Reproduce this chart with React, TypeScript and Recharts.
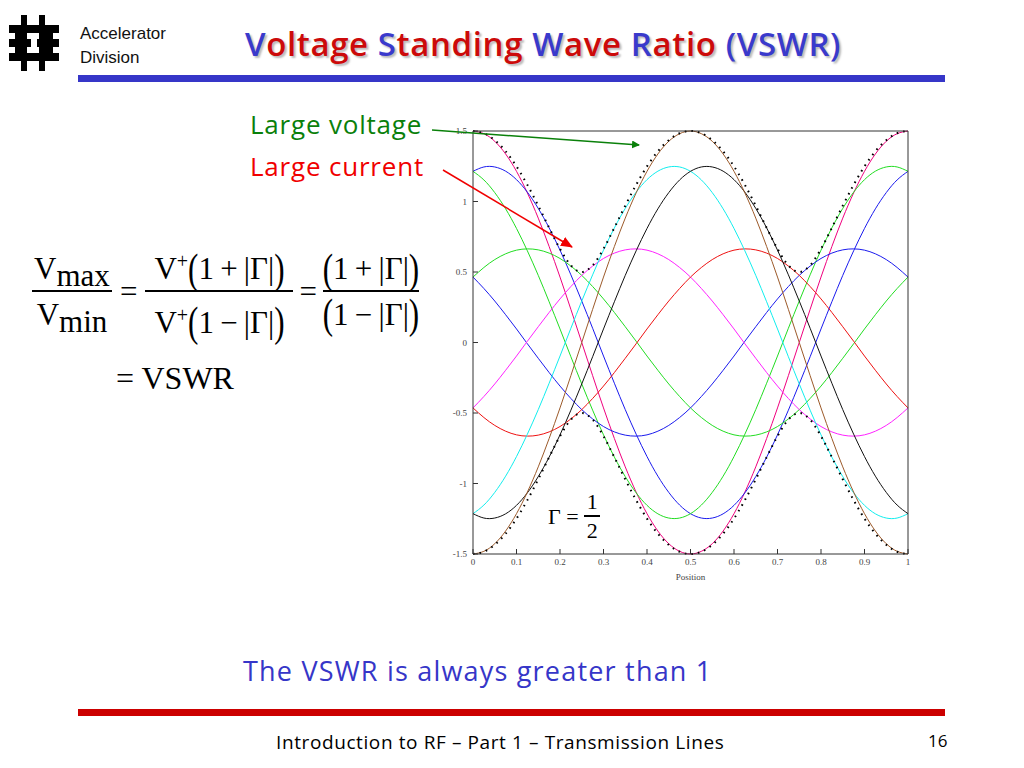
import React from "react"
import { LineChart, Line, XAxis, YAxis } from "recharts"

// position along the line, in wavelengths
const positions = [
  0, 0.025, 0.05, 0.075, 0.1, 0.125, 0.15, 0.175, 0.2, 0.225, 0.25, 0.275, 0.3, 0.325, 0.35, 0.375, 0.4, 0.425, 0.45, 0.475,
  0.5, 0.525, 0.55, 0.575, 0.6, 0.625, 0.65, 0.675, 0.7, 0.725, 0.75, 0.775, 0.8, 0.825, 0.85, 0.875, 0.9, 0.925, 0.95, 0.975, 1,
]

// voltage snapshots
const pinkWave = [
  1.5, 1.481, 1.427, 1.337, 1.214, 1.061, 0.882, 0.681, 0.464, 0.235, 0, -0.235, -0.464, -0.681, -0.882, -1.061, -1.214, -1.337, -1.427, -1.481,
  -1.5, -1.481, -1.427, -1.337, -1.214, -1.061, -0.882, -0.681, -0.464, -0.235, 0, 0.235, 0.464, 0.681, 0.882, 1.061, 1.214, 1.337, 1.427, 1.481, 1.5,
]
const blueWave = [
  1.214, 1.245, 1.245, 1.215, 1.155, 1.066, 0.951, 0.813, 0.655, 0.48, 0.294, 0.101, -0.096, -0.289, -0.476, -0.65, -0.809, -0.948, -1.063, -1.153,
  -1.214, -1.245, -1.245, -1.215, -1.155, -1.066, -0.951, -0.813, -0.655, -0.48, -0.294, -0.101, 0.096, 0.289, 0.476, 0.65, 0.809, 0.948, 1.063, 1.153, 1.214,
]
const greenWave = [
  1.214, 1.153, 1.063, 0.948, 0.809, 0.65, 0.476, 0.289, 0.096, -0.101, -0.294, -0.48, -0.655, -0.813, -0.951, -1.066, -1.155, -1.215, -1.245, -1.245,
  -1.214, -1.153, -1.063, -0.948, -0.809, -0.65, -0.476, -0.289, -0.096, 0.101, 0.294, 0.48, 0.655, 0.813, 0.951, 1.066, 1.155, 1.215, 1.245, 1.245, 1.214,
]
const greenSmall = [
  0.464, 0.532, 0.588, 0.629, 0.655, 0.664, 0.657, 0.634, 0.596, 0.542, 0.476, 0.397, 0.309, 0.213, 0.112, 0.009, -0.096, -0.197, -0.294, -0.383,
  -0.464, -0.532, -0.588, -0.629, -0.655, -0.664, -0.657, -0.634, -0.596, -0.542, -0.476, -0.397, -0.309, -0.213, -0.112, -0.009, 0.096, 0.197, 0.294, 0.383, 0.464,
]
const blueSmall = [
  0.464, 0.383, 0.294, 0.197, 0.096, -0.009, -0.112, -0.213, -0.309, -0.397, -0.476, -0.542, -0.596, -0.634, -0.657, -0.664, -0.655, -0.629, -0.588, -0.532,
  -0.464, -0.383, -0.294, -0.197, -0.096, 0.009, 0.112, 0.213, 0.309, 0.397, 0.476, 0.542, 0.596, 0.634, 0.657, 0.664, 0.655, 0.629, 0.588, 0.532, 0.464,
]
const magentaWave = [
  -0.464, -0.383, -0.294, -0.197, -0.096, 0.009, 0.112, 0.213, 0.309, 0.397, 0.476, 0.542, 0.596, 0.634, 0.657, 0.664, 0.655, 0.629, 0.588, 0.532,
  0.464, 0.383, 0.294, 0.197, 0.096, -0.009, -0.112, -0.213, -0.309, -0.397, -0.476, -0.542, -0.596, -0.634, -0.657, -0.664, -0.655, -0.629, -0.588, -0.532, -0.464,
]
const redWave = [
  -0.464, -0.532, -0.588, -0.629, -0.655, -0.664, -0.657, -0.634, -0.596, -0.542, -0.476, -0.397, -0.309, -0.213, -0.112, -0.009, 0.096, 0.197, 0.294, 0.383,
  0.464, 0.532, 0.588, 0.629, 0.655, 0.664, 0.657, 0.634, 0.596, 0.542, 0.476, 0.397, 0.309, 0.213, 0.112, 0.009, -0.096, -0.197, -0.294, -0.383, -0.464,
]
const cyanWave = [
  -1.214, -1.153, -1.063, -0.948, -0.809, -0.65, -0.476, -0.289, -0.096, 0.101, 0.294, 0.48, 0.655, 0.813, 0.951, 1.066, 1.155, 1.215, 1.245, 1.245,
  1.214, 1.153, 1.063, 0.948, 0.809, 0.65, 0.476, 0.289, 0.096, -0.101, -0.294, -0.48, -0.655, -0.813, -0.951, -1.066, -1.155, -1.215, -1.245, -1.245, -1.214,
]
const blackWave = [
  -1.214, -1.245, -1.245, -1.215, -1.155, -1.066, -0.951, -0.813, -0.655, -0.48, -0.294, -0.101, 0.096, 0.289, 0.476, 0.65, 0.809, 0.948, 1.063, 1.153,
  1.214, 1.245, 1.245, 1.215, 1.155, 1.066, 0.951, 0.813, 0.655, 0.48, 0.294, 0.101, -0.096, -0.289, -0.476, -0.65, -0.809, -0.948, -1.063, -1.153, -1.214,
]
const brownWave = [
  -1.5, -1.481, -1.427, -1.337, -1.214, -1.061, -0.882, -0.681, -0.464, -0.235, 0, 0.235, 0.464, 0.681, 0.882, 1.061, 1.214, 1.337, 1.427, 1.481,
  1.5, 1.481, 1.427, 1.337, 1.214, 1.061, 0.882, 0.681, 0.464, 0.235, 0, -0.235, -0.464, -0.681, -0.882, -1.061, -1.214, -1.337, -1.427, -1.481, -1.5,
]
// dotted envelope
const envUpper = [
  1.5, 1.484, 1.435, 1.356, 1.249, 1.118, 0.97, 0.814, 0.664, 0.547, 0.5, 0.547, 0.664, 0.814, 0.97, 1.118, 1.249, 1.356, 1.435, 1.484,
  1.5, 1.484, 1.435, 1.356, 1.249, 1.118, 0.97, 0.814, 0.664, 0.547, 0.5, 0.547, 0.664, 0.814, 0.97, 1.118, 1.249, 1.356, 1.435, 1.484, 1.5,
]
const envLower = [
  -1.5, -1.484, -1.435, -1.356, -1.249, -1.118, -0.97, -0.814, -0.664, -0.547, -0.5, -0.547, -0.664, -0.814, -0.97, -1.118, -1.249, -1.356, -1.435, -1.484,
  -1.5, -1.484, -1.435, -1.356, -1.249, -1.118, -0.97, -0.814, -0.664, -0.547, -0.5, -0.547, -0.664, -0.814, -0.97, -1.118, -1.249, -1.356, -1.435, -1.484, -1.5,
]

const xTicks = [0, 0.1, 0.2, 0.3, 0.4, 0.5, 0.6, 0.7, 0.8, 0.9, 1]
const yTicks = [-1.5, -1, -0.5, 0, 0.5, 1, 1.5]

const series = [
  { key: "pink", values: pinkWave, color: "#f0007e" },
  { key: "blue", values: blueWave, color: "#1a1aee" },
  { key: "green", values: greenWave, color: "#22dd22" },
  { key: "greenSmall", values: greenSmall, color: "#22dd22" },
  { key: "blueSmall", values: blueSmall, color: "#1a1aee" },
  { key: "magenta", values: magentaWave, color: "#ff22ff" },
  { key: "red", values: redWave, color: "#ee1111" },
  { key: "cyan", values: cyanWave, color: "#11eeee" },
  { key: "black", values: blackWave, color: "#111111" },
  { key: "brown", values: brownWave, color: "#9c5a2a" },
]

const data = positions.map((x, i) => {
  const row: { [k: string]: number } = { x, envUpper: envUpper[i], envLower: envLower[i] }
  series.forEach((s) => { row[s.key] = s.values[i] })
  return row
})

const serif = '"Liberation Serif", "Times New Roman", serif'
const comic = '"Comic Sans MS", "Open Sans", "DejaVu Sans", sans-serif'
const tickStyle = { fontFamily: serif, fontSize: 9, fill: "#444" }

const Frac = ({ num, den, width }: { num: React.ReactNode; den: React.ReactNode; width: number }) => (
  <div style={{ display: "inline-flex", flexDirection: "column", alignItems: "center", width }}>
    <div style={{ height: 50, paddingBottom: 4, display: "flex", alignItems: "flex-end", lineHeight: "34px" }}>{num}</div>
    <div style={{ width: "100%", height: 2, background: "#000" }} />
    <div style={{ height: 50, paddingTop: 6, display: "flex", alignItems: "flex-start", lineHeight: "34px" }}>{den}</div>
  </div>
)

const Paren = ({ c }: { c: string }) => (
  <span style={{ display: "inline-block", transform: "scaleY(1.35)", fontWeight: 300 }}>{c}</span>
)

const Gamma = ({ sign }: { sign: string }) => (
  <span>
    <Paren c="(" />1{"\u2009"}{sign}{"\u2009"}|Γ|<Paren c=")" />
  </span>
)

const TitlePart = ({ text }: { text: string }) => (
  <>
    {text.split("").map((ch, i) => (
      <span key={i} style={{ color: /[A-Z()]/.test(ch) ? "#3a3acc" : "#cc0a0a" }}>{ch}</span>
    ))}
  </>
)

const Logo = () => (
  <svg width={50} height={56} style={{ position: "absolute", left: 9, top: 15 }}>
    <rect x={12} y={0} width={6} height={14} fill="#000" />
    <rect x={30} y={0} width={6} height={14} fill="#000" />
    <rect x={0} y={10} width={50} height={8} fill="#000" />
    <path d="M6 18 L18 18 L18 26 L6 26 Z M30 18 L44 18 L44 26 L30 26 Z" fill="#000" />
    <rect x={0} y={24} width={22} height={8} fill="#000" />
    <rect x={28} y={24} width={22} height={8} fill="#000" />
    <path d="M6 32 L18 32 L18 40 L6 40 Z M30 32 L44 32 L44 40 L30 40 Z" fill="#000" />
    <rect x={0} y={38} width={50} height={8} fill="#000" />
    <rect x={12} y={42} width={6} height={14} fill="#000" />
    <rect x={30} y={42} width={6} height={14} fill="#000" />
  </svg>
)

export default function App() {
  return (
    <div style={{ position: "absolute", left: 0, top: 0, width: 1024, height: 768, background: "#fff", overflow: "hidden" }}>
      <Logo />
      <div style={{ position: "absolute", left: 80, top: 22, fontFamily: '"Liberation Sans", Arial, sans-serif', fontSize: 17, lineHeight: "24px", color: "#111" }}>
        Accelerator<br />Division
      </div>
      <div style={{ position: "absolute", left: 245, top: 23, fontFamily: comic, fontSize: 33, lineHeight: "42px", fontWeight: 600, letterSpacing: 0.6, textShadow: "2px 2px 2px #bbb", whiteSpace: "nowrap" }}>
        <TitlePart text="Voltage Standing Wave Ratio (VSWR)" />
      </div>
      <div style={{ position: "absolute", left: 78, top: 75, width: 867, height: 7, background: "#3636c8" }} />

      <div style={{ position: "absolute", left: 250, top: 106, fontFamily: comic, fontSize: 26, letterSpacing: 0.8, color: "#0a800a", whiteSpace: "nowrap" }}>Large voltage</div>
      <div style={{ position: "absolute", left: 250, top: 148, fontFamily: comic, fontSize: 26, letterSpacing: 0.8, color: "#f00000", whiteSpace: "nowrap" }}>Large current</div>

      <div style={{ position: "absolute", left: 32, top: 236, fontFamily: serif, fontSize: 31, display: "flex", alignItems: "center", whiteSpace: "nowrap" }}>
        <Frac width={80} num={<span>V<span style={{ position: "relative", top: 7 }}>max</span></span>} den={<span>V<span style={{ position: "relative", top: 7 }}>min</span></span>} />
        <span style={{ margin: "0 8px" }}>=</span>
        <Frac width={148} num={<span>V<sup style={{ fontSize: 20 }}>+</sup><Gamma sign="+" /></span>} den={<span>V<sup style={{ fontSize: 20 }}>+</sup><Gamma sign="−" /></span>} />
        <span style={{ margin: "0 6px" }}>=</span>
        <Frac width={96} num={<Gamma sign="+" />} den={<Gamma sign="−" />} />
      </div>
      <div style={{ position: "absolute", left: 116, top: 360, fontFamily: serif, fontSize: 32, whiteSpace: "nowrap" }}>= VSWR</div>

      <div style={{ position: "absolute", left: 440, top: 120 }}>
        <LineChart width={480} height={470} data={data} margin={{ top: 10, right: 10, left: 0, bottom: 6 }}>
          <XAxis dataKey="x" type="number" domain={[0, 1]} ticks={xTicks} tickSize={-5} tickMargin={10} height={30}
            tick={tickStyle} stroke="#333" interval={0}
            label={{ value: "Position", position: "insideBottom", offset: 4, style: { fontFamily: serif, fontSize: 9, fill: "#444" } }} />
          <XAxis xAxisId="top" orientation="top" type="number" domain={[0, 1]} ticks={xTicks} tickSize={-5} height={1} tick={false} stroke="#333" interval={0} />
          <YAxis type="number" domain={[-1.5, 1.5]} ticks={yTicks} tickSize={-5} tickMargin={11} width={33} tick={tickStyle} stroke="#333" interval={0} />
          <YAxis yAxisId="right" orientation="right" type="number" domain={[-1.5, 1.5]} ticks={yTicks} tickSize={-5} width={2} tick={false} stroke="#333" interval={0} />
          {series.map((s) => (
            <Line key={s.key} dataKey={s.key} type="natural" stroke={s.color} strokeWidth={1} dot={false} activeDot={false} isAnimationActive={false} />
          ))}
          <Line dataKey="envUpper" type="monotone" stroke="#000" strokeWidth={2} strokeDasharray="1.6 5" dot={false} activeDot={false} isAnimationActive={false} />
          <Line dataKey="envLower" type="monotone" stroke="#000" strokeWidth={2} strokeDasharray="1.6 5" dot={false} activeDot={false} isAnimationActive={false} />
        </LineChart>
      </div>

      <div style={{ position: "absolute", left: 548, top: 492, fontFamily: serif, fontSize: 22, display: "flex", alignItems: "center" }}>
        <span>Γ =&nbsp;</span>
        <div style={{ display: "inline-flex", flexDirection: "column", alignItems: "center", width: 16 }}>
          <span style={{ lineHeight: "20px", marginBottom: 3 }}>1</span>
          <div style={{ width: "100%", height: 1.5, background: "#000" }} />
          <span style={{ lineHeight: "22px", marginTop: 3 }}>2</span>
        </div>
      </div>

      <svg width={1024} height={768} style={{ position: "absolute", left: 0, top: 0, pointerEvents: "none" }}>
        <defs>
          <marker id="hg" markerWidth="8" markerHeight="8" refX="7" refY="4" orient="auto" markerUnits="userSpaceOnUse">
            <path d="M0,0 L8,4 L0,8 Z" fill="#0a800a" />
          </marker>
          <marker id="hr" markerWidth="12" markerHeight="10" refX="11" refY="5" orient="auto" markerUnits="userSpaceOnUse">
            <path d="M0,0 L12,5 L0,10 Z" fill="#f00000" />
          </marker>
        </defs>
        <line x1={432} y1={130} x2={639} y2={145} stroke="#0a800a" strokeWidth={1.5} markerEnd="url(#hg)" />
        <line x1={443} y1={170} x2={572} y2={247} stroke="#f00000" strokeWidth={1.5} markerEnd="url(#hr)" />
      </svg>

      <div style={{ position: "absolute", left: 243, top: 652, fontFamily: comic, fontSize: 27, letterSpacing: 1.2, color: "#3636c8", whiteSpace: "nowrap" }}>The VSWR is always greater than 1</div>
      <div style={{ position: "absolute", left: 78, top: 709, width: 867, height: 7, background: "#cc0000" }} />
      <div style={{ position: "absolute", left: 276, top: 729, fontFamily: comic, fontSize: 19, letterSpacing: 0.6, color: "#000", whiteSpace: "nowrap" }}>Introduction to RF – Part 1 – Transmission Lines</div>
      <div style={{ position: "absolute", left: 928, top: 729, fontFamily: comic, fontSize: 17, color: "#000" }}>16</div>
    </div>
  )
}
